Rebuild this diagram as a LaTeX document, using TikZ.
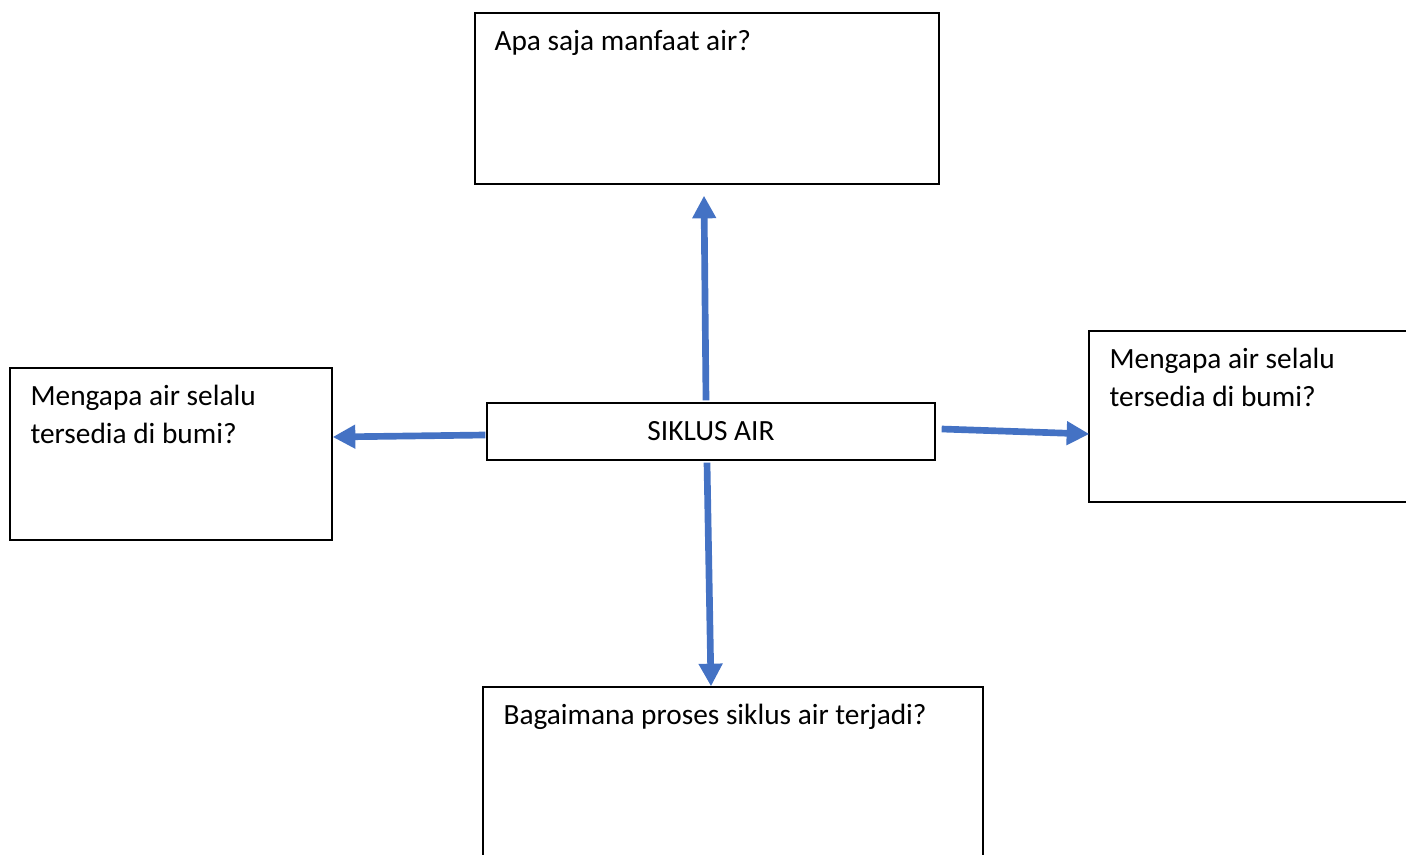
\documentclass[tikz,border=0pt]{standalone}
\usepackage{fontspec}
\setmainfont{Carlito}
\usepackage{tikz}
\usetikzlibrary{arrows.meta,positioning}
\definecolor{arrowblue}{RGB}{68,114,196}
\tikzset{
  qbox/.style  = {rectangle, draw=black, line width=1pt, inner sep=0pt},
  qtext/.style = {anchor=base west, inner sep=0pt, align=left,
                  font=\fontsize{22}{28.5}\selectfont},
  arr/.style   = {-{Triangle[length=17pt,width=17pt]}, line width=5pt, draw=arrowblue},
}

\begin{document}
\begin{tikzpicture}[x=0.75pt,y=-0.75pt]
\useasboundingbox (0,0) rectangle (1406,855);

% centre
\node[qbox, minimum width=336pt, minimum height=42.75pt] (hub) at (711,431.5) {};
\node[font=\fontsize{22}{26}\selectfont, inner sep=0pt] (hubtxt) at (hub) {SIKLUS AIR};

% question boxes
\node[qbox, minimum width=348pt, minimum height=128.25pt] (qtop) at (707,98.5) {};
\node[qtext] (qtoptxt) at ([shift={(20,38)}]qtop.north west) {Apa saja manfaat air?};

\node[qbox, minimum width=241.5pt, minimum height=129pt] (qleft) at (171,454) {};
\node[qtext] (qlefttxt) at ([shift={(21,76)}]qleft.north west) {Mengapa air selalu\\tersedia di bumi?};

\node[qbox, minimum width=248.25pt, minimum height=128.25pt] (qright) at (1254.5,416.5) {};
\node[qtext] (qrighttxt) at ([shift={(21,76)}]qright.north west) {Mengapa air selalu\\tersedia di bumi?};

\node[qbox, minimum width=375pt, minimum height=137.25pt] (qbottom) at (733,778.5) {};
\node[qtext] (qbottomtxt) at ([shift={(21,38)}]qbottom.north west) {Bagaimana proses siklus air terjadi?};

% arrows
\draw[arr] ([shift={(-5,-2)}]hub.north) -- ([shift={(-3,11)}]qtop.south);
\draw[arr] ([shift={(-1,3.5)}]hub.west) -- ([shift={(0,-17)}]qleft.east);
\draw[arr] ([shift={(6,-2.5)}]hub.east) -- ([shift={(1,17.5)}]qright.west);
\draw[arr] ([shift={(-4,2)}]hub.south) -- ([shift={(-22,0)}]qbottom.north);

\end{tikzpicture}
\end{document}
